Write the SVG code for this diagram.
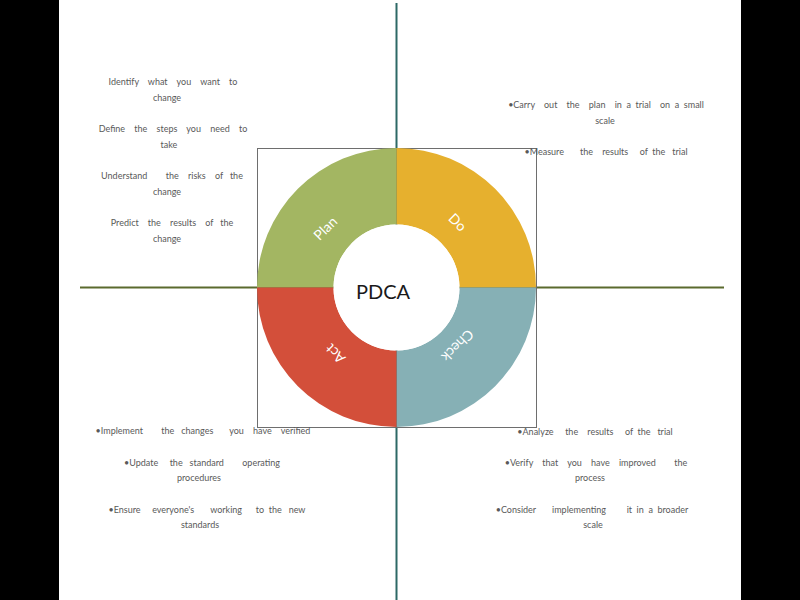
<svg xmlns="http://www.w3.org/2000/svg" width="800" height="600" viewBox="0 0 800 600">
<style>
.note{font-family:Lato,"Liberation Sans",sans-serif;font-size:9px;fill:#595959;text-anchor:middle;white-space:pre}
.lbl{font-family:Lato,"Liberation Sans",sans-serif;font-size:14px;fill:#ffffff;text-anchor:middle;dominant-baseline:central}
.ctr{font-family:Lato,"Liberation Sans",sans-serif;font-size:20px;fill:#1a1a1a;text-anchor:middle}
</style>
<rect x="0" y="0" width="800" height="600" fill="#ffffff"/>
<rect x="0" y="0" width="59" height="600" fill="#000000"/>
<rect x="741" y="0" width="59" height="600" fill="#000000"/>
<g id="connectors">
<line x1="80" y1="287.5" x2="724" y2="287.5" stroke="#5b6a2e" stroke-width="2"/>
<line x1="396.5" y1="3" x2="396.5" y2="600" stroke="#2d6966" stroke-width="2"/>
</g>
<rect id="frame" x="257.5" y="148.5" width="279" height="279" fill="none" stroke="#6e6e6e" stroke-width="1"/>
<g id="plan">
<path d="M257,287.5 A139.5,139.5 0 0 1 396.5,148 L396.5,224.5 A63,63 0 0 0 333.5,287.5 Z" fill="#a3b662"/>
<text class="lbl" transform="translate(325,228) rotate(-45)">Plan</text>
</g>
<g id="do">
<path d="M396.5,148 A139.5,139.5 0 0 1 536,287.5 L459.5,287.5 A63,63 0 0 0 396.5,224.5 Z" fill="#e6b02e"/>
<text class="lbl" transform="translate(458,222) rotate(45)">Do</text>
</g>
<g id="check">
<path d="M536,287.5 A139.5,139.5 0 0 1 396.5,427 L396.5,350.5 A63,63 0 0 0 459.5,287.5 Z" fill="#86b0b5"/>
<text class="lbl" transform="translate(458,346) rotate(135)">Check</text>
</g>
<g id="act">
<path d="M396.5,427 A139.5,139.5 0 0 1 257,287.5 L333.5,287.5 A63,63 0 0 0 396.5,350.5 Z" fill="#d34f3a"/>
<text class="lbl" transform="translate(335,354) rotate(225)">Act</text>
</g>
<g id="pdca">
<circle cx="396.5" cy="287.5" r="63" fill="#ffffff"/>
<text class="ctr" x="383" y="299">PDCA</text>
</g>
<g id="plan-notes">
<text class="note" x="173" y="85">Identify    what    you    want    to</text>
<text class="note" x="167" y="101">change</text>
<text class="note" x="173" y="132">Define    the    steps    you    need    to</text>
<text class="note" x="169" y="148">take</text>
<text class="note" x="172" y="179">Understand        the    risks    of   the</text>
<text class="note" x="167" y="195">change</text>
<text class="note" x="172" y="226">Predict    the    results    of   the</text>
<text class="note" x="167" y="242">change</text>
</g>
<g id="do-notes">
<text class="note" x="606" y="108">•Carry    out    the    plan    in  a  trial    on  a  small</text>
<text class="note" x="605" y="124">scale</text>
<text class="note" x="606" y="155">•Measure       the    results     of  the   trial</text>
</g>
<g id="act-notes">
<text class="note" x="203" y="434">•Implement        the   changes       you    have    verified</text>
<text class="note" x="202" y="466">•Update     the   standard        operating</text>
<text class="note" x="199" y="481">procedures</text>
<text class="note" x="207" y="513">•Ensure     everyone's       working      to  the   new</text>
<text class="note" x="200" y="528">standards</text>
</g>
<g id="check-notes">
<text class="note" x="595" y="435">•Analyze     the    results     of  the   trial</text>
<text class="note" x="596" y="466">•Verify    that    you    have    improved        the</text>
<text class="note" x="590" y="481">process</text>
<text class="note" x="592" y="513">•Consider       implementing         it  in  a  broader</text>
<text class="note" x="593" y="528">scale</text>
</g>
</svg>
